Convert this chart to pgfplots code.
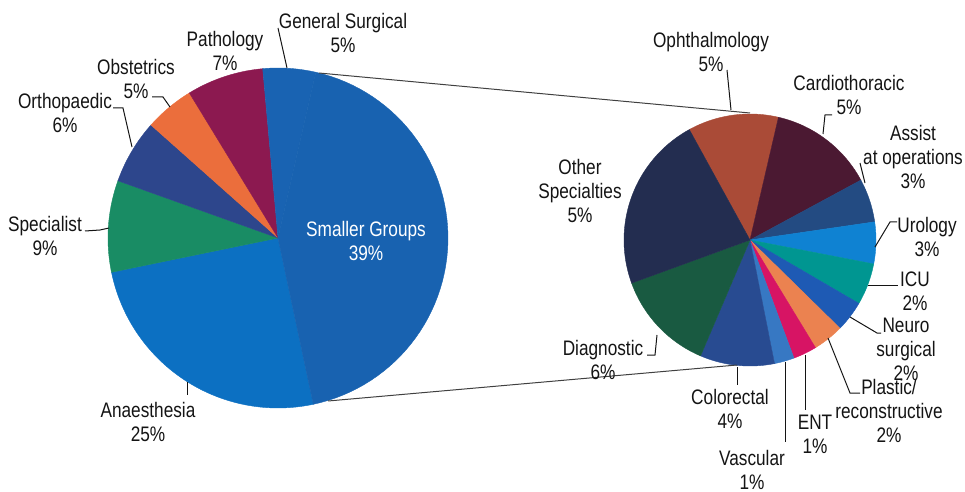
\documentclass[border=0pt]{standalone}
\usepackage{pgfplots}
\pgfplotsset{compat=1.18}
\usepackage{fontspec}
\setmainfont[FakeStretch=0.82]{Liberation Sans}

\definecolor{cAna}{RGB}{12,112,194}
\definecolor{cSG}{RGB}{24,98,176}
\definecolor{cGS}{RGB}{25,99,178}
\definecolor{cSpec}{RGB}{25,140,100}
\definecolor{cOrth}{RGB}{45,70,140}
\definecolor{cObst}{RGB}{235,110,60}
\definecolor{cPath}{RGB}{140,25,80}

\definecolor{cOph}{RGB}{170,75,55}
\definecolor{cCar}{RGB}{75,25,50}
\definecolor{cAss}{RGB}{35,75,130}
\definecolor{cUro}{RGB}{15,130,210}
\definecolor{cICU}{RGB}{0,150,145}
\definecolor{cNeu}{RGB}{30,90,180}
\definecolor{cPla}{RGB}{235,130,80}
\definecolor{cENT}{RGB}{215,20,100}
\definecolor{cVas}{RGB}{55,120,195}
\definecolor{cCol}{RGB}{40,75,145}
\definecolor{cDia}{RGB}{25,90,65}
\definecolor{cOth}{RGB}{35,45,80}
\definecolor{txt}{RGB}{20,20,20}

\tikzset{lbl/.style={align=center, font=\fontsize{10.5}{12}\selectfont, inner sep=0pt, text=txt}}

% #1 cx, #2 cy, #3 radius, #4 start angle, #5 list value/colour (clockwise)
\newcommand\drawpie[5]{%
  \gdef\ptot{0}%
  \foreach \v/\c in {#5}{\pgfmathsetmacro\tmp{\ptot+\v}\xdef\ptot{\tmp}}%
  \xdef\cumang{#4}%
  \foreach \v/\c in {#5}{%
    \pgfmathsetmacro\endang{\cumang-360*\v/\ptot}%
    \edef\temp{\noexpand\addplot[fill=\c, draw=\c, line width=0.2pt, domain=\endang:\cumang, samples=60] ({#1+#3*cos(x)},{#2-#3*sin(x)}) -- (axis cs:#1,#2) -- cycle;}%
    \temp
    \xdef\cumang{\endang}%
  }%
}

\begin{document}
\begin{tikzpicture}
\begin{axis}[
  x=0.5pt, y=0.5pt, y dir=reverse,
  xmin=0, xmax=965, ymin=0, ymax=492,
  hide axis, clip=false, no markers,
]
\path (axis cs:0,0) rectangle (axis cs:965,492);

% left pie: Anaesthesia, Specialist, Orthopaedic, Obstetrics, Pathology, General Surgical, Smaller Groups
\drawpie{278}{238}{170}{282}{25.1/cAna, 8.7/cSpec, 6.1/cOrth, 4.7/cObst, 7.3/cPath, 5.0/cGS, 43.1/cSG}

% right pie: Ophthalmology, Cardiothoracic, Assist, Urology, ICU, Neuro, Plastic, ENT, Vascular, Colorectal, Diagnostic, Other
\drawpie{750}{240}{126}{118.8}{5.0/cOph, 5.8/cCar, 2.4/cAss, 2.3/cUro, 2.3/cICU, 1.7/cNeu, 1.7/cPla, 1.3/cENT, 1.1/cVas, 4.1/cCol, 5.6/cDia, 9.7/cOth}

% connector lines
\addplot[black!75, line width=0.5pt] coordinates {(319,73) (750,113)};
\addplot[black!75, line width=0.5pt] coordinates {(328,401) (737,365)};

% leader lines
\addplot[txt, line width=0.5pt] coordinates {(278,28) (287,68)};
\addplot[txt, line width=0.5pt] coordinates {(152,97) (163,97) (170,107)};
\addplot[txt, line width=0.5pt] coordinates {(113,108) (123,108) (132,147)};
\addplot[txt, line width=0.5pt] coordinates {(85,231) (100,230) (109,228)};
\addplot[txt, line width=0.5pt] coordinates {(187,382) (187,395)};
\addplot[txt, line width=0.5pt] coordinates {(727,70) (731,110)};
\addplot[txt, line width=0.5pt] coordinates {(832,115) (825,115) (823,134)};
\addplot[txt, line width=0.5pt] coordinates {(860,163) (865,183)};
\addplot[txt, line width=0.5pt] coordinates {(897,222) (890,222) (875,247)};
\addplot[txt, line width=0.5pt] coordinates {(868,285) (898,285)};
\addplot[txt, line width=0.5pt] coordinates {(850,317) (877,333) (881,333)};
\addplot[txt, line width=0.5pt] coordinates {(828,338) (850,393) (860,393)};
\addplot[txt, line width=0.5pt] coordinates {(805,355) (805,410)};
\addplot[txt, line width=0.5pt] coordinates {(785,362) (785,442)};
\addplot[txt, line width=0.5pt] coordinates {(737,367) (737,385)};
\addplot[txt, line width=0.5pt] coordinates {(647,355) (655,355) (657,335)};

% labels left
\node[lbl] at (axis cs:343,33) {General Surgical\\5\%};
\node[lbl] at (axis cs:225,51) {Pathology\\7\%};
\node[lbl] at (axis cs:136,79) {Obstetrics\\5\%};
\node[lbl] at (axis cs:65,113) {Orthopaedic\\6\%};
\node[lbl] at (axis cs:45,236) {Specialist\\9\%};
\node[lbl] at (axis cs:148,422) {Anaesthesia\\25\%};
\node[lbl, text=white] at (axis cs:366,241) {Smaller Groups\\39\%};

% labels right
\node[lbl] at (axis cs:711,52) {Ophthalmology\\5\%};
\node[lbl] at (axis cs:849,95) {Cardiothoracic\\5\%};
\node[lbl] at (axis cs:913,157) {Assist\\at operations\\3\%};
\node[lbl] at (axis cs:927,237) {Urology\\3\%};
\node[lbl] at (axis cs:915,291) {ICU\\2\%};
\node[lbl] at (axis cs:906,349) {Neuro\\surgical\\2\%};
\node[lbl] at (axis cs:889,411) {Plastic/\\reconstructive\\2\%};
\node[lbl] at (axis cs:815,434) {ENT\\1\%};
\node[lbl] at (axis cs:752,470) {Vascular\\1\%};
\node[lbl] at (axis cs:730,409) {Colorectal\\4\%};
\node[lbl] at (axis cs:603,360) {Diagnostic\\6\%};
\node[lbl] at (axis cs:580,191) {Other\\Specialties\\5\%};
\end{axis}
\end{tikzpicture}
\end{document}
